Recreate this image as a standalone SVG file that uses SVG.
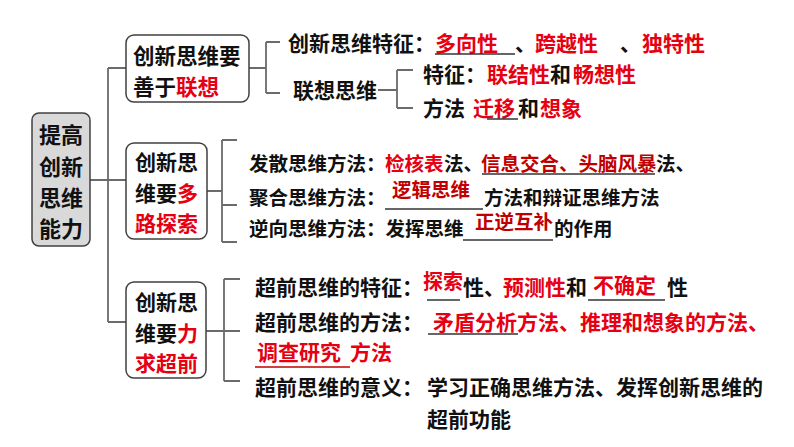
<svg xmlns="http://www.w3.org/2000/svg" width="794" height="447" viewBox="0 0 794 447">
<style>
text{font-family:"Noto Sans CJK SC","Noto Sans",sans-serif;font-weight:bold;fill:#111}
.r{fill:#e60012}
.d{fill:#c00000}
.s2{font-size:19.5px}
.s1{font-size:21px}
.box{fill:#fff;stroke:#404040;stroke-width:1.5}
.con{fill:none;stroke:#6b6b6b;stroke-width:1.8}
.ul{stroke:#333;stroke-width:1.5}
.ulr{stroke:#c00000;stroke-width:1.5}
</style>
<rect width="794" height="447" fill="#fff"/>
<g id="connectors">
<path class="con" d="M108 68V322M108 68H126M90 180H126M108 322H126"/>
<path class="con" d="M249 68H266M266 42V93M266 42H280M266 93H280"/>
<path class="con" d="M378 90H397M397 70V108M397 70H413M397 108H413"/>
<path class="con" d="M207 191H222M222 140V242M222 140H237M222 205H237M222 242H237"/>
<path class="con" d="M206 331H240M224 279V381M224 279H240M224 381H240"/>
</g>
<g id="root">
<rect x="32" y="113" width="58" height="133" rx="7" fill="#d9d9d9" stroke="#404040" stroke-width="1.5"/>
<text x="61" y="143" font-size="22" text-anchor="middle">提高</text>
<text x="61" y="175" font-size="22" text-anchor="middle">创新</text>
<text x="61" y="206" font-size="22" text-anchor="middle">思维</text>
<text x="61" y="237" font-size="22" text-anchor="middle">能力</text>
</g>
<g id="n1">
<rect class="box" x="126" y="35" width="123" height="67" rx="8"/>
<text x="133" y="64" font-size="21.5">创新思维要</text>
<text x="133" y="95" font-size="21.5">善于<tspan class="r">联想</tspan></text>
</g>
<g id="n2">
<rect class="box" x="126" y="143" width="81" height="96" rx="8"/>
<text x="135" y="170" font-size="21">创新思</text>
<text x="135" y="201" font-size="21">维要<tspan class="r">多</tspan></text>
<text x="135" y="231" font-size="21" class="r">路探索</text>
</g>
<g id="n3">
<rect class="box" x="126" y="282" width="80" height="96" rx="8"/>
<text x="135" y="310" font-size="21">创新思</text>
<text x="135" y="341" font-size="21">维要<tspan class="r">力</tspan></text>
<text x="135" y="371" font-size="21" class="r">求超前</text>
</g>
<g id="n1a">
<text class="s1" y="51"><tspan x="288">创新思维特征：</tspan><tspan x="435" class="r">多向性</tspan><tspan x="515">、</tspan><tspan x="535" class="r">跨越性</tspan><tspan x="620">、</tspan><tspan x="642" class="r">独特性</tspan></text>
<line class="ul" x1="435" y1="54" x2="515" y2="54"/>
</g>
<g id="n1b">
<text class="s1" x="293" y="98">联想思维</text>
</g>
<g id="n1b1">
<text class="s1" y="82"><tspan x="423">特征：</tspan><tspan x="487" class="r">联结性</tspan><tspan x="550">和</tspan><tspan x="573" class="r">畅想性</tspan></text>
</g>
<g id="n1b2">
<text class="s1" y="116"><tspan x="423">方法</tspan><tspan x="473" class="r">迁移</tspan><tspan x="518">和</tspan><tspan x="540" class="r">想象</tspan></text>
<line class="ul" x1="487" y1="119" x2="518" y2="119"/>
</g>
<g id="n2a">
<text class="s2" y="171"><tspan x="249">发散思维方法：</tspan><tspan x="385" class="r">检核表</tspan><tspan x="444">法、</tspan><tspan x="481" class="d">信息交合、头脑风暴</tspan><tspan x="656">法、</tspan></text>
<line class="ul" x1="482" y1="174" x2="655" y2="174"/>
</g>
<g id="n2b">
<text class="s2" x="249" y="205">聚合思维方法：</text>
<text class="s2 d" x="392" y="197">逻辑思维</text>
<text class="s2" x="484" y="205">方法和辩证思维方法</text>
<line class="ul" x1="385" y1="209" x2="483" y2="209"/>
</g>
<g id="n2c">
<text class="s2" x="249" y="236">逆向思维方法：发挥思维</text>
<text class="s2 d" x="475" y="229">正逆互补</text>
<text class="s2" x="554" y="236">的作用</text>
<line class="ul" x1="463" y1="240" x2="553" y2="240"/>
</g>
<g id="n3a">
<text class="s1" x="255" y="295">超前思维的特征：</text>
<text class="r" x="423" y="289" font-size="20">探索</text>
<text class="s1" y="295"><tspan x="463">性、</tspan><tspan x="503" class="r">预测性</tspan><tspan x="566">和</tspan></text>
<text class="s1 r" x="593" y="293">不确定</text>
<text class="s1" x="667" y="295">性</text>
<line class="ul" x1="427" y1="300" x2="460" y2="300"/>
<line class="ul" x1="588" y1="300" x2="665" y2="300"/>
</g>
<g id="n3b">
<text class="s1" y="330"><tspan x="255">超前思维的方法：</tspan><tspan x="433" class="r">矛盾分析方法、推理和想象的方法、</tspan></text>
<line class="ul" x1="428" y1="334" x2="518" y2="334"/>
<text class="s1 r" y="360"><tspan x="257">调查研究</tspan><tspan x="350">方法</tspan></text>
<line class="ulr" x1="255" y1="367" x2="350" y2="367"/>
</g>
<g id="n3c">
<text class="s1" y="395"><tspan x="255">超前思维的意义：</tspan><tspan x="427">学习正确思维方法、发挥创新思维的</tspan></text>
<text class="s1" x="427" y="427">超前功能</text>
</g>
</svg>
